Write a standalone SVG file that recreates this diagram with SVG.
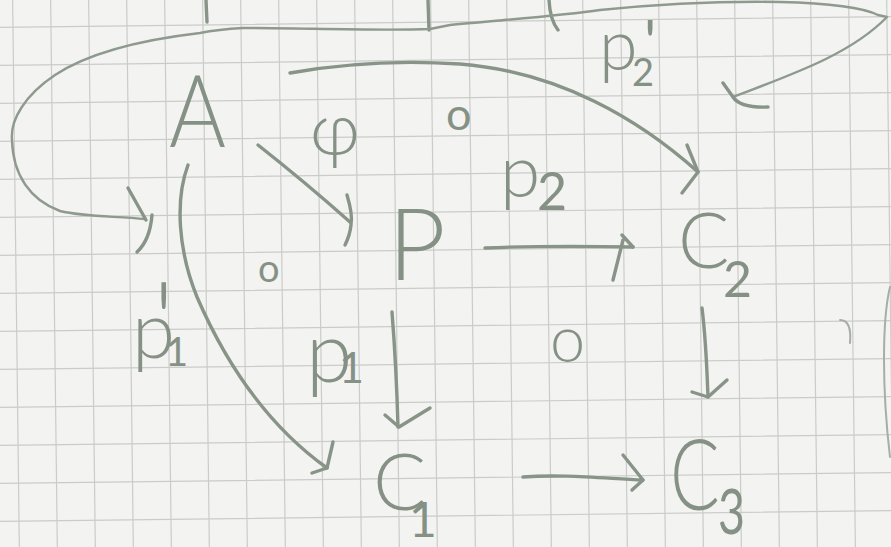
<svg xmlns="http://www.w3.org/2000/svg" width="891" height="547" viewBox="0 0 891 547">
<style>
.grid{stroke:#cbcbc9;stroke-width:1.2;fill:none}
.pen{stroke:#889488;stroke-width:3.4;fill:none;stroke-linecap:round;stroke-linejoin:round}
.thin{stroke:#8f9a8f;stroke-width:2.4;fill:none;stroke-linecap:round;stroke-linejoin:round}
.lt{stroke:#a6aea6;stroke-width:2;fill:none;stroke-linecap:round}
.t{font-family:Lato,"Liberation Sans",sans-serif;font-weight:300;fill:#859185}
.s{font-weight:400}
</style>
<rect width="891" height="547" fill="#f3f3f1"/>
<g id="grid" transform="rotate(-0.7 445 273)">
<path class="grid" d="M16 -40V600M54 -40V600M92 -40V600M130 -40V600M168 -40V600M206 -40V600M244 -40V600M282 -40V600M320 -40V600M358 -40V600M396 -40V600M434 -40V600M472 -40V600M510 -40V600M548 -40V600M586 -40V600M624 -40V600M662 -40V600M700 -40V600M738 -40V600M776 -40V600M814 -40V600M852 -40V600M890 -40V600"/>
<path class="grid" d="M-30 -16H930M-30 22H930M-30 60H930M-30 98H930M-30 136H930M-30 174H930M-30 212H930M-30 250H930M-30 288H930M-30 326H930M-30 364H930M-30 402H930M-30 440H930M-30 478H930M-30 516H930M-30 554H930"/>
</g>
<g id="marks">
<path class="pen" d="M206 0L207 22M428 0L429 30M549 0Q550 20 558 30"/>
<path class="lt" d="M890 287C882 320 882 390 890 457"/>
<path class="lt" d="M840 320Q852 320 850 343"/>
</g>
<g id="connectors">
<g id="loop">
<path class="thin" d="M733 97C790 75 850 55 887 17L878 15C860 6 820 3 780 2C720 1 660 4 600 10C560 16 500 20 450 25L430 29C380 31 300 28 243 28C225 29 210 31 200 33C140 40 90 52 55 75C25 95 10 120 12 140C13 175 30 200 60 211C85 217 115 216 145 219"/>
<path class="pen" d="M723 83L733 97Q740 108 768 107"/>
<path class="pen" d="M128 188L146 220M152 215Q150 240 137 252"/>
</g>
<g id="e-phi">
<path class="pen" d="M258 145Q305 182 350 222"/>
<path class="pen" d="M347 195Q353 215 351 225Q350 235 345 245"/>
</g>
<g id="e-p2">
<path class="pen" d="M485 248C530 246 580 246 633 247"/>
<path class="pen" d="M622 235L633 247M623 240L613 280"/>
</g>
<g id="e-p1">
<path class="pen" d="M392 312C395 350 397 390 398 427"/>
<path class="pen" d="M385 415L399 427L430 408"/>
</g>
<g id="e-c2c3">
<path class="pen" d="M702 308C706 340 707 370 708 397"/>
<path class="pen" d="M692 392L708 397L727 380"/>
</g>
<g id="e-c1c3">
<path class="pen" d="M523 477C560 474 600 478 643 480"/>
<path class="pen" d="M623 455L643 480L632 490"/>
</g>
<g id="e-p2prime">
<path class="pen" d="M290 73C340 64 400 60 460 64C560 72 640 120 698 172"/>
<path class="pen" d="M687 145L698 172L682 193"/>
</g>
<g id="e-p1prime">
<path class="pen" d="M188 165C175 200 178 250 197 297C220 350 260 420 327 468"/>
<path class="pen" d="M333 442L327 468L312 473"/>
</g>
</g>
<g id="labels">
<text class="t" x="310" y="155" font-size="72">φ</text>
<text class="t"><tspan x="500" y="197" font-size="73">p</tspan><tspan class="s" x="537" y="210" font-size="52">2</tspan></text>
<text class="t"><tspan x="306" y="382" font-size="84">p</tspan><tspan class="s" x="339" y="383" font-size="43">1</tspan></text>
<text class="t"><tspan x="132" y="358" font-size="78">p</tspan><tspan x="153" y="361" font-size="110">'</tspan><tspan class="s" x="165" y="366" font-size="40">1</tspan></text>
<text class="t"><tspan x="599" y="70" font-size="70">p</tspan><tspan class="s" x="632" y="86" font-size="38">2</tspan><tspan class="s" x="644" y="63" font-size="60">'</tspan></text>
<text class="t s" x="446" y="130" font-size="45">o</text>
<text class="t s" x="258" y="282" font-size="38">o</text>
<text class="t" x="550" y="362" font-size="63">o</text>
</g>
<g id="node-A"><text class="t" x="169" y="147" font-size="100" textLength="57" lengthAdjust="spacingAndGlyphs">A</text></g>
<g id="node-P"><text class="t" x="388" y="280" font-size="100">P</text></g>
<g id="node-C2"><text class="t"><tspan x="678" y="268" font-size="76">C</tspan><tspan class="s" x="723" y="297" font-size="50">2</tspan></text></g>
<g id="node-C1"><text class="t"><tspan x="373" y="510" font-size="79">C</tspan><tspan class="s" x="409" y="537" font-size="48">1</tspan></text></g>
<g id="node-C3"><text class="t" transform="translate(670 0) scale(0.75 1)"><tspan x="0" y="510" font-size="98">C</tspan><tspan class="s" x="64" y="534" font-size="62">3</tspan></text></g>
</svg>
